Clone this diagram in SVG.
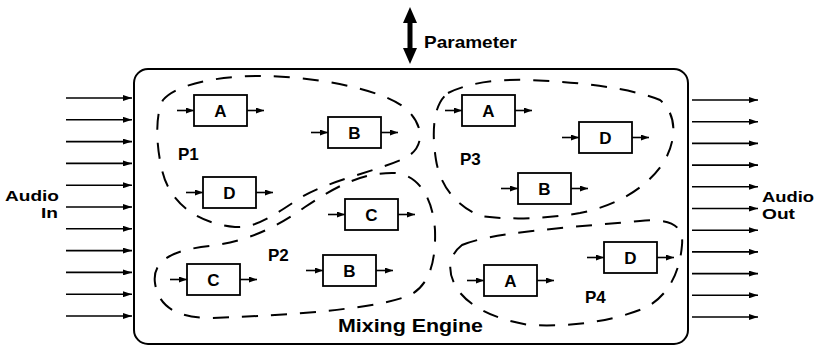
<svg xmlns="http://www.w3.org/2000/svg" width="820" height="347" viewBox="0 0 820 347">
<style>
text{font-family:"Liberation Sans",Arial,sans-serif;font-weight:bold;fill:#000}
.lbl{font-size:17px}
.io-t{font-size:15px}
.box{fill:#fff;stroke:#000;stroke-width:1.8}
.bt{font-size:17px;text-anchor:middle}
.part{fill:none;stroke:#000;stroke-width:2;stroke-dasharray:16 13}
.ar{fill:none;stroke:#000;stroke-width:1.6;marker-end:url(#ah)}
.io{fill:none;stroke:#000;stroke-width:1.6;marker-end:url(#ah2)}
</style>
<defs>
<marker id="ah" viewBox="0 0 8 6" refX="8" refY="3" markerWidth="8" markerHeight="6" markerUnits="userSpaceOnUse" orient="auto"><path d="M0,0 L8,3 L0,6 Z"/></marker>
<marker id="ah2" viewBox="0 0 9 6" refX="9" refY="3" markerWidth="9" markerHeight="6" markerUnits="userSpaceOnUse" orient="auto"><path d="M0,0 L9,3 L0,6 Z"/></marker>
</defs>
<rect width="820" height="347" fill="#fff"/>

<g id="engine">
<rect x="134" y="69" width="554" height="275" rx="14" fill="none" stroke="#000" stroke-width="2"/>
<text x="338" y="332" font-size="19" textLength="145" lengthAdjust="spacingAndGlyphs">Mixing Engine</text>
</g>

<g id="parameter">
<path d="M410,7 L417,23 L412.5,23 L412.5,48 L417,48 L410,64 L403,48 L407.5,48 L407.5,23 L403,23 Z" fill="#000"/>
<text x="424" y="48" class="lbl" textLength="93" lengthAdjust="spacingAndGlyphs">Parameter</text>
</g>

<g id="audio-in">
<text x="59" y="201" class="io-t" text-anchor="end" textLength="54" lengthAdjust="spacingAndGlyphs">Audio</text>
<text x="58" y="218" class="io-t" text-anchor="end" textLength="17" lengthAdjust="spacingAndGlyphs">In</text>
</g>
<g id="audio-out">
<text x="762" y="202" class="io-t" textLength="52" lengthAdjust="spacingAndGlyphs">Audio</text>
<text x="762" y="219" class="io-t" textLength="33" lengthAdjust="spacingAndGlyphs">Out</text>
</g>

<g id="P1">
<path class="part" d="M163,100 C175,85 215,76 260,76 C310,76 380,88 405,108 C425,125 425,148 405,158 C375,172 330,180 300,198 C270,218 255,228 235,227 C200,224 170,205 162,170 C156,145 155,115 163,100 Z"/>
<text x="178" y="160" class="lbl">P1</text>
</g>
<g id="P2">
<path class="part" d="M155,283 C152,262 170,250 210,246 C250,241 280,225 305,207 C335,187 362,172 395,173 C420,175 433,200 435,230 C436,260 430,285 410,295 C380,308 300,315 210,318 C175,318 158,305 155,283 Z"/>
<text x="268" y="261" class="lbl">P2</text>
</g>
<g id="P3">
<path class="part" d="M448,93 C470,82 500,79 530,80 C580,82 630,88 660,100 C678,115 676,140 665,160 C650,185 620,205 580,213 C545,219 510,220 480,216 C455,205 440,185 436,160 C432,135 432,105 448,93 Z"/>
<text x="460" y="165" class="lbl">P3</text>
</g>
<g id="P4">
<path class="part" d="M462,245 C490,233 560,228 640,221 C670,218 684,225 682,245 C680,270 670,295 645,308 C610,322 570,327 530,325 C495,320 465,305 455,285 C447,270 449,255 462,245 Z"/>
<text x="585" y="303" class="lbl">P4</text>
</g>

<g id="p1-a"><rect class="box" x="194" y="95" width="53" height="31"/><text class="bt" x="220.5" y="116.5">A</text></g>
<g id="p1-b"><rect class="box" x="328" y="117" width="53" height="31"/><text class="bt" x="354.5" y="138.5">B</text></g>
<g id="p1-d"><rect class="box" x="203" y="177" width="53" height="31"/><text class="bt" x="229.5" y="198.5">D</text></g>
<g id="p2-c1"><rect class="box" x="345" y="199" width="53" height="31"/><text class="bt" x="371.5" y="220.5">C</text></g>
<g id="p2-c2"><rect class="box" x="187" y="264" width="53" height="31"/><text class="bt" x="213.5" y="285.5">C</text></g>
<g id="p2-b"><rect class="box" x="323" y="255" width="53" height="31"/><text class="bt" x="349.5" y="276.5">B</text></g>
<g id="p3-a"><rect class="box" x="462" y="95" width="53" height="31"/><text class="bt" x="488.5" y="116.5">A</text></g>
<g id="p3-d"><rect class="box" x="579" y="122" width="53" height="31"/><text class="bt" x="605.5" y="143.5">D</text></g>
<g id="p3-b"><rect class="box" x="518" y="173" width="53" height="31"/><text class="bt" x="544.5" y="194.5">B</text></g>
<g id="p4-a"><rect class="box" x="484" y="265" width="53" height="31"/><text class="bt" x="510.5" y="286.5">A</text></g>
<g id="p4-d"><rect class="box" x="604" y="242" width="53" height="31"/><text class="bt" x="630.5" y="263.5">D</text></g>

<g id="connectors">
<path class="ar" d="M177,110.5 H194"/><path class="ar" d="M247,110.5 H264"/>
<path class="ar" d="M311,132.5 H328"/><path class="ar" d="M381,132.5 H398"/>
<path class="ar" d="M186,192.5 H203"/><path class="ar" d="M256,192.5 H273"/>
<path class="ar" d="M328,214.5 H345"/><path class="ar" d="M398,214.5 H415"/>
<path class="ar" d="M170,279.5 H187"/><path class="ar" d="M240,279.5 H257"/>
<path class="ar" d="M306,270.5 H323"/><path class="ar" d="M376,270.5 H393"/>
<path class="ar" d="M445,110.5 H462"/><path class="ar" d="M515,110.5 H532"/>
<path class="ar" d="M562,137.5 H579"/><path class="ar" d="M632,137.5 H649"/>
<path class="ar" d="M501,188.5 H518"/><path class="ar" d="M571,188.5 H588"/>
<path class="ar" d="M467,280.5 H484"/><path class="ar" d="M537,280.5 H554"/>
<path class="ar" d="M587,257.5 H604"/><path class="ar" d="M657,257.5 H674"/>
<path class="io" d="M66,98 H132"/><path class="io" d="M66,119.8 H132"/><path class="io" d="M66,141.6 H132"/><path class="io" d="M66,163.4 H132"/><path class="io" d="M66,185.2 H132"/><path class="io" d="M66,207 H132"/><path class="io" d="M66,228.8 H132"/><path class="io" d="M66,250.6 H132"/><path class="io" d="M66,272.4 H132"/><path class="io" d="M66,294.2 H132"/><path class="io" d="M66,316 H132"/>
<path class="io" d="M692,100 H758"/><path class="io" d="M692,121.7 H758"/><path class="io" d="M692,143.4 H758"/><path class="io" d="M692,165.1 H758"/><path class="io" d="M692,186.8 H758"/><path class="io" d="M692,208.5 H758"/><path class="io" d="M692,230.2 H758"/><path class="io" d="M692,251.9 H758"/><path class="io" d="M692,273.6 H758"/><path class="io" d="M692,295.3 H758"/><path class="io" d="M692,317 H758"/>
</g>
</svg>
